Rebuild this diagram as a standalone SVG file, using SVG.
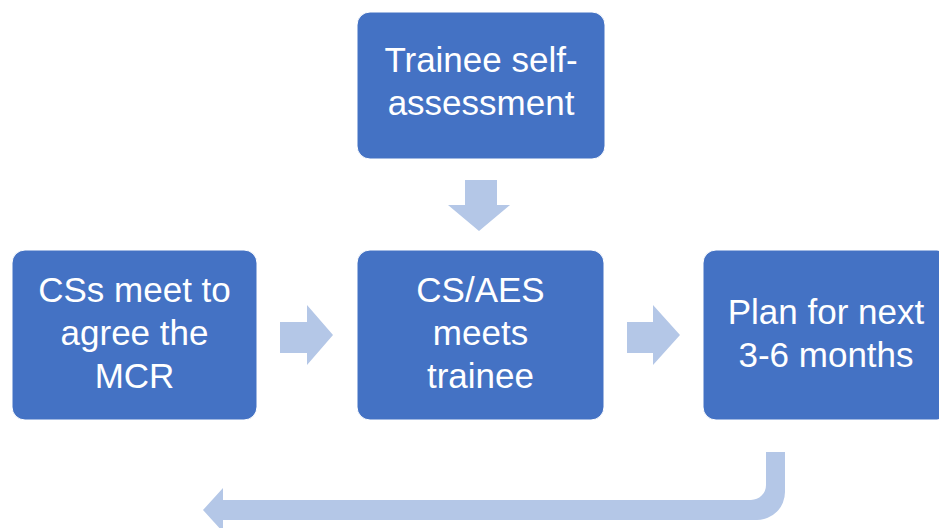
<svg xmlns="http://www.w3.org/2000/svg" width="939" height="528" viewBox="0 0 939 528">
<style>
.box{fill:#4472C4;stroke:#ffffff;stroke-width:1}
.lbl{font-family:"Liberation Sans",Arial,sans-serif;font-size:35px;fill:#ffffff;text-anchor:middle}
.arr{fill:#B4C7E7}
</style>
<rect width="939" height="528" fill="#ffffff"/>
<g id="connectors">
<path class="arr" d="M465,180 H497 V205 H510 L479,231 L448,205 H465 Z"/>
<path class="arr" d="M280,322 H307 V305 L333,335 L307,365 V353 H280 Z"/>
<path class="arr" d="M627,322 H653 V305 L680,335 L653,365 V353 H627 Z"/>
<path class="arr" d="M766,452 H785 V492 A28,28 0 0 1 757,520 H223 V532 L203,510 L223,488 V500 H751 A15,15 0 0 0 766,485 Z"/>
</g>
<g id="node-self">
<rect class="box" x="357" y="12" width="248" height="147" rx="13"/>
<text class="lbl" x="481" y="72">Trainee self-</text>
<text class="lbl" x="481" y="115">assessment</text>
</g>
<g id="node-css">
<rect class="box" x="12" y="250" width="245" height="170" rx="13"/>
<text class="lbl" x="134.5" y="302">CSs meet to</text>
<text class="lbl" x="134.5" y="345">agree the</text>
<text class="lbl" x="134.5" y="388">MCR</text>
</g>
<g id="node-aes">
<rect class="box" x="357" y="250" width="247" height="170" rx="13"/>
<text class="lbl" x="480.5" y="302">CS/AES</text>
<text class="lbl" x="480.5" y="345">meets</text>
<text class="lbl" x="480.5" y="388">trainee</text>
</g>
<g id="node-plan">
<rect class="box" x="703" y="250" width="247" height="170" rx="13"/>
<text class="lbl" x="826" y="324">Plan for next</text>
<text class="lbl" x="826" y="367">3-6 months</text>
</g>
</svg>
